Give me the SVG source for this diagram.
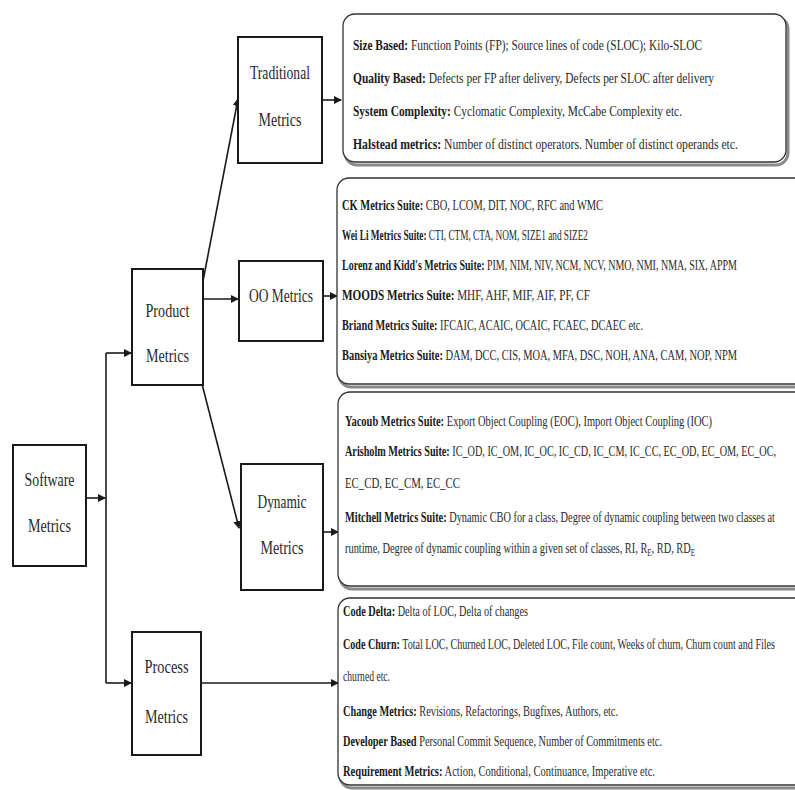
<svg xmlns="http://www.w3.org/2000/svg" width="795" height="790" viewBox="0 0 795 790">
<style>
.nb{fill:#fff;stroke:#1a1a1a;stroke-width:2}
.nt{font-family:"Liberation Serif","Times New Roman","DejaVu Serif",serif;font-size:18px;fill:#2a2a2a;text-anchor:middle}
.tb{fill:#fff;stroke:#333;stroke-width:1.3}
.sh{fill:none;stroke:#8a8a8a;stroke-width:3}
.tx{font-family:"Liberation Serif","Times New Roman","DejaVu Serif",serif;font-size:15px;fill:#2a2a2a}
.b{font-weight:bold;fill:#1a1a1a}
.c{stroke:#1a1a1a;stroke-width:1.6;fill:none}
.sub{font-size:10px}
</style>
<defs>
<marker id="ah" markerWidth="8" markerHeight="8" refX="7" refY="4" orient="auto" markerUnits="userSpaceOnUse">
<path d="M0,0 L8,4 L0,8 Z" fill="#1a1a1a"/>
</marker>
</defs>
<rect width="795" height="790" fill="#fff"/>

<g id="connectors">
<line class="c" x1="86" y1="498" x2="105" y2="498" marker-end="url(#ah)"/>
<line class="c" x1="106" y1="353" x2="106" y2="683"/>
<line class="c" x1="106" y1="353" x2="131" y2="353" marker-end="url(#ah)"/>
<line class="c" x1="106" y1="683" x2="131" y2="683" marker-end="url(#ah)"/>
<line class="c" x1="203" y1="299" x2="238" y2="299" marker-end="url(#ah)"/>
<line class="c" x1="203" y1="281" x2="238" y2="99" marker-end="url(#ah)"/>
<line class="c" x1="202" y1="384" x2="239" y2="528" marker-end="url(#ah)"/>
<line class="c" x1="322" y1="100" x2="341" y2="100" marker-end="url(#ah)"/>
<line class="c" x1="323" y1="296" x2="337" y2="296" marker-end="url(#ah)"/>
<line class="c" x1="323" y1="532" x2="338" y2="532" marker-end="url(#ah)"/>
<line class="c" x1="201" y1="683" x2="338" y2="683" marker-end="url(#ah)"/>
</g>

<g id="software">
<rect class="nb" x="13" y="445" width="73" height="121"/>
<text class="nt" x="49.5" y="486" textLength="50" lengthAdjust="spacingAndGlyphs">Software</text>
<text class="nt" x="49.5" y="532" textLength="43" lengthAdjust="spacingAndGlyphs">Metrics</text>
</g>

<g id="product">
<rect class="nb" x="132" y="269" width="71" height="116"/>
<text class="nt" x="167.5" y="317" textLength="44" lengthAdjust="spacingAndGlyphs">Product</text>
<text class="nt" x="167.5" y="362" textLength="43" lengthAdjust="spacingAndGlyphs">Metrics</text>
</g>

<g id="process">
<rect class="nb" x="132" y="632" width="69" height="123"/>
<text class="nt" x="166.5" y="673" textLength="44" lengthAdjust="spacingAndGlyphs">Process</text>
<text class="nt" x="166.5" y="723" textLength="43" lengthAdjust="spacingAndGlyphs">Metrics</text>
</g>

<g id="traditional">
<rect class="nb" x="238" y="37" width="84" height="126"/>
<text class="nt" x="280" y="79" textLength="60" lengthAdjust="spacingAndGlyphs">Traditional</text>
<text class="nt" x="280" y="126" textLength="43" lengthAdjust="spacingAndGlyphs">Metrics</text>
</g>

<g id="oo">
<rect class="nb" x="239" y="261" width="84" height="80"/>
<text class="nt" x="281" y="302" textLength="64" lengthAdjust="spacingAndGlyphs">OO Metrics</text>
</g>

<g id="dynamic">
<rect class="nb" x="241" y="464" width="82" height="126"/>
<text class="nt" x="282" y="508" textLength="49" lengthAdjust="spacingAndGlyphs">Dynamic</text>
<text class="nt" x="282" y="554" textLength="43" lengthAdjust="spacingAndGlyphs">Metrics</text>
</g>

<g id="box-traditional">
<rect class="sh" x="345" y="17" width="443" height="148" rx="12"/>
<rect class="tb" x="343" y="14" width="443" height="148" rx="12"/>
<text class="tx" x="353" y="50" textLength="349" lengthAdjust="spacingAndGlyphs"><tspan class="b">Size Based:</tspan> Function Points (FP); Source lines of code (SLOC); Kilo-SLOC</text>
<text class="tx" x="353" y="83" textLength="361" lengthAdjust="spacingAndGlyphs"><tspan class="b">Quality Based:</tspan> Defects per FP after delivery, Defects per SLOC after delivery</text>
<text class="tx" x="353" y="116" textLength="329" lengthAdjust="spacingAndGlyphs"><tspan class="b">System Complexity:</tspan> Cyclomatic Complexity, McCabe Complexity etc.</text>
<text class="tx" x="353" y="149" textLength="385" lengthAdjust="spacingAndGlyphs"><tspan class="b">Halstead metrics:</tspan> Number of distinct operators. Number of distinct operands etc.</text>
</g>

<g id="box-oo">
<rect class="sh" x="339" y="181" width="480" height="206" rx="12"/>
<rect class="tb" x="337" y="178" width="480" height="206" rx="12"/>
<text class="tx" x="342" y="210" textLength="261" lengthAdjust="spacingAndGlyphs"><tspan class="b">CK Metrics Suite:</tspan> CBO, LCOM, DIT, NOC, RFC and WMC</text>
<text class="tx" x="342" y="240" textLength="246" lengthAdjust="spacingAndGlyphs"><tspan class="b">Wei Li Metrics Suite:</tspan> CTI, CTM, CTA, NOM, SIZE1 and SIZE2</text>
<text class="tx" x="342" y="270" textLength="395" lengthAdjust="spacingAndGlyphs"><tspan class="b">Lorenz and Kidd's Metrics Suite:</tspan> PIM, NIM, NIV, NCM, NCV, NMO, NMI, NMA, SIX, APPM</text>
<text class="tx" x="342" y="300" textLength="248" lengthAdjust="spacingAndGlyphs"><tspan class="b">MOODS Metrics Suite:</tspan> MHF, AHF, MIF, AIF, PF, CF</text>
<text class="tx" x="342" y="330" textLength="301" lengthAdjust="spacingAndGlyphs"><tspan class="b">Briand Metrics Suite:</tspan> IFCAIC, ACAIC, OCAIC, FCAEC, DCAEC etc.</text>
<text class="tx" x="342" y="360" textLength="395" lengthAdjust="spacingAndGlyphs"><tspan class="b">Bansiya Metrics Suite:</tspan> DAM, DCC, CIS, MOA, MFA, DSC, NOH, ANA, CAM, NOP, NPM</text>
</g>

<g id="box-dynamic">
<rect class="sh" x="340" y="395" width="480" height="194" rx="12"/>
<rect class="tb" x="338" y="392" width="480" height="194" rx="12"/>
<text class="tx" x="345" y="426" textLength="367" lengthAdjust="spacingAndGlyphs"><tspan class="b">Yacoub Metrics Suite:</tspan> Export Object Coupling (EOC), Import Object Coupling (IOC)</text>
<text class="tx" x="345" y="456" textLength="431" lengthAdjust="spacingAndGlyphs"><tspan class="b">Arisholm Metrics Suite:</tspan> IC_OD, IC_OM, IC_OC, IC_CD, IC_CM, IC_CC, EC_OD, EC_OM, EC_OC,</text>
<text class="tx" x="345" y="488" textLength="115" lengthAdjust="spacingAndGlyphs">EC_CD, EC_CM, EC_CC</text>
<text class="tx" x="345" y="522" textLength="430" lengthAdjust="spacingAndGlyphs"><tspan class="b">Mitchell Metrics Suite:</tspan> Dynamic CBO for a class, Degree of dynamic coupling between two classes at</text>
<text class="tx" x="345" y="553" textLength="350" lengthAdjust="spacingAndGlyphs">runtime, Degree of dynamic coupling within a given set of classes, RI, R<tspan class="sub" dy="3">E</tspan><tspan dy="-3">, RD, RD</tspan><tspan class="sub" dy="3">E</tspan></text>
</g>

<g id="box-process">
<rect class="sh" x="340" y="601" width="480" height="187" rx="12"/>
<rect class="tb" x="338" y="598" width="480" height="187" rx="12"/>
<text class="tx" x="343" y="616" textLength="185" lengthAdjust="spacingAndGlyphs"><tspan class="b">Code Delta:</tspan> Delta of LOC, Delta of changes</text>
<text class="tx" x="343" y="649" textLength="432" lengthAdjust="spacingAndGlyphs"><tspan class="b">Code Churn:</tspan> Total LOC, Churned LOC, Deleted LOC, File count, Weeks of churn, Churn count and Files</text>
<text class="tx" x="343" y="681" textLength="47" lengthAdjust="spacingAndGlyphs">churned etc.</text>
<text class="tx" x="343" y="716" textLength="275" lengthAdjust="spacingAndGlyphs"><tspan class="b">Change Metrics:</tspan> Revisions, Refactorings, Bugfixes, Authors, etc.</text>
<text class="tx" x="343" y="746" textLength="319" lengthAdjust="spacingAndGlyphs"><tspan class="b">Developer Based</tspan> Personal Commit Sequence, Number of Commitments etc.</text>
<text class="tx" x="343" y="776" textLength="312" lengthAdjust="spacingAndGlyphs"><tspan class="b">Requirement Metrics:</tspan> Action, Conditional, Continuance, Imperative etc.</text>
</g>
</svg>
